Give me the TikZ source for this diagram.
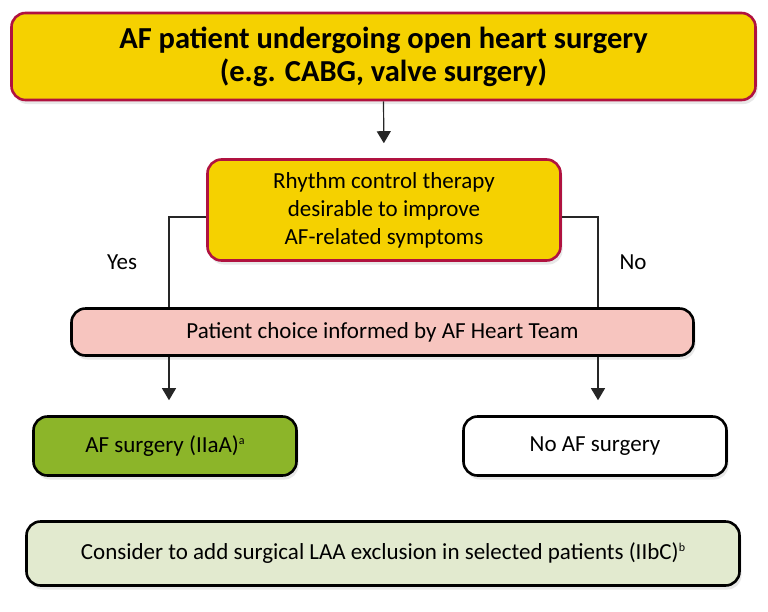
\documentclass[tikz,border=0pt]{standalone}
\usepackage{fontspec}
\setmainfont{Carlito}
\usetikzlibrary{arrows.meta,shadows}
\definecolor{ylw}{HTML}{F5D100}
\definecolor{crim}{HTML}{B01240}
\definecolor{pnk}{HTML}{F7C5BF}
\definecolor{grn}{HTML}{8CB529}
\definecolor{pale}{HTML}{E2EACF}
\newcommand{\supnote}[1]{\raisebox{8pt}{\fontsize{12}{12}\selectfont #1}}
\begin{document}
\begin{tikzpicture}[x=1pt,y=-1pt,
  box/.style={rectangle, draw=black, line width=2.6pt, rounded corners=14pt, inner sep=0pt,
    align=center, font=\fontsize{23}{28}\selectfont,
    drop shadow={opacity=0.18, shadow xshift=2pt, shadow yshift=-4pt}},
  conn/.style={line width=1.2pt, draw=black!85},
  arr/.style={conn, -{Triangle[width=14pt,length=12pt]}, shorten >=15pt},
  lab/.style={font=\fontsize{23}{26}\selectfont, inner sep=0pt}]
\useasboundingbox (0,0) rectangle (768,611);
\node[box, draw=crim, fill=ylw, minimum width=744pt, minimum height=87pt,
  font=\bfseries\fontsize{30.5}{33}\selectfont] (top) at (383.5,56.5)
  {AF patient undergoing open heart surgery\\(e.g. CABG, valve surgery)};
\node[box, draw=crim, fill=ylw, minimum width=353pt, minimum height=101pt] (rhy) at (384,210)
  {Rhythm control therapy\\desirable to improve\\AF-related symptoms};
\node[box, fill=pnk, minimum width=622pt, minimum height=47pt] (pat) at (382.5,332)
  {Patient choice informed by AF Heart Team};
\node[box, fill=grn, minimum width=263pt, minimum height=59pt] (yes) at (165,446)
  {AF surgery (IIaA)\supnote{a}};
\node[box, fill=white, minimum width=263pt, minimum height=59pt] (no) at (595,446)
  {No AF surgery};
\node[box, fill=pale, minimum width=713pt, minimum height=64pt] (laa) at (383,553.5)
  {Consider to add surgical LAA exclusion in selected patients (IIbC)\supnote{b}};
\node[lab] (ylab) at (122,262) {Yes};
\node[lab] (nlab) at (633,262) {No};
\draw[arr] (top.south) -- (rhy.north);
\draw[conn] ([yshift=-7pt]rhy.west) -| ([xshift=-213.5pt]pat.north);
\draw[conn] ([yshift=-7pt]rhy.east) -| ([xshift=215.5pt]pat.north);
\draw[arr] ([xshift=-213.5pt]pat.south) -- ([xshift=4pt]yes.north);
\draw[arr] ([xshift=215.5pt]pat.south) -- ([xshift=3pt]no.north);
\end{tikzpicture}
\end{document}
